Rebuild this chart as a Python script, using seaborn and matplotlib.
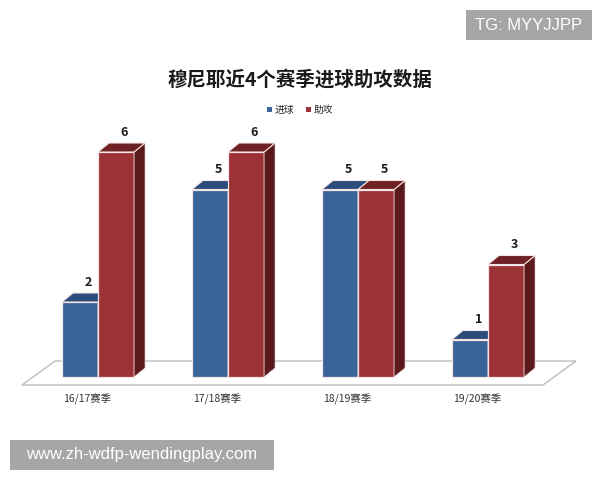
import matplotlib
matplotlib.use("Agg")
import matplotlib.pyplot as plt
import seaborn as sns
import pandas as pd
from matplotlib.patches import Polygon, Rectangle, Patch

# ---- data ----
seasons = ["16/17赛季", "17/18赛季", "18/19赛季", "19/20赛季"]
goals = [2, 5, 5, 1]
assists = [6, 6, 5, 3]
series_names = ["进球", "助攻"]
title = "穆尼耶近4个赛季进球助攻数据"
wm_top = "TG: MYYJJPP"
wm_bottom = "www.zh-wdfp-wendingplay.com"

df = pd.DataFrame({
    "season": seasons * 2,
    "value": goals + assists,
    "series": [series_names[0]] * len(seasons) + [series_names[1]] * len(seasons),
})

# ---- style ----
front = {series_names[0]: "#3A6398", series_names[1]: "#9B3236"}
topc = {series_names[0]: "#2C4C7C", series_names[1]: "#6E2224"}
sidec = {series_names[0]: "#233E66", series_names[1]: "#5A1A1C"}

sns.set_theme(style="white")
plt.rcParams['font.family'] = ['Noto Sans CJK SC', 'DejaVu Sans']

W, H = 600, 480
fig = plt.figure(figsize=(6, 4.8), dpi=100)
ax = fig.add_axes([0, 0, 1, 1])

sns.barplot(data=df, x="season", y="value", hue="series", palette=front,
            width=0.555, gap=0, edgecolor="#F6E4E4", linewidth=0.9,
            saturation=1, legend=False, ax=ax, zorder=2)

# pixel mapping: category spacing 130 px, first group center at 98 px; 1 unit = 37.5 px, baseline at 377 px
px_x, px_y = 130.0, 37.5
x0_px, base_px = 98.0, 377.0
ax.set_xlim(-x0_px / px_x, (W - x0_px) / px_x)
ax.set_ylim(-(H - base_px) / px_y, base_px / px_y)
ax.axis("off")

# 3D depth offsets
dx, dy = 11 / px_x, 9 / px_y

# floor
n = len(seasons)
fl_left, fl_right = -76 / px_x, (n - 1) + 55 / px_x
fl_front, fl_back = -8 / px_y, 16 / px_y
fl_shift = 33 / px_x
floor = Polygon([(fl_left, fl_front), (fl_right, fl_front),
                 (fl_right + fl_shift, fl_back), (fl_left + fl_shift, fl_back)],
                closed=True, facecolor="white", edgecolor="#BDBDBD", lw=1.0, zorder=1)
ax.add_patch(floor)

for k, (cont, name) in enumerate(zip(ax.containers, series_names)):
    for bar in cont:
        bar.set_zorder(2 + 2 * k)
        x, w, h = bar.get_x(), bar.get_width(), bar.get_height()
        top_poly = Polygon([(x, h), (x + w, h), (x + w + dx, h + dy), (x + dx, h + dy)],
                           closed=True, facecolor=topc[name], edgecolor="#F6E4E4",
                           lw=0.8, zorder=2.5 + 2 * k)
        side_poly = Polygon([(x + w, 0), (x + w + dx, dy), (x + w + dx, h + dy), (x + w, h)],
                            closed=True, facecolor=sidec[name], edgecolor="#F6E4E4",
                            lw=0.5, zorder=2.4 + 2 * k)
        ax.add_patch(side_poly)
        ax.add_patch(top_poly)
        ax.text(x + w / 2 + 0.065, h + 0.53, f"{h:g}", ha="center", va="center",
                fontsize=9, fontweight="bold", color="#1A1A1A", zorder=6)

for i, s in enumerate(seasons):
    ax.text(i - 0.085, -22 / px_y, s, ha="center", va="center", fontsize=7.5,
            color="#333333", zorder=6)

fig.text(0.5, 1 - 80 / H, title, ha="center", va="center", fontsize=14,
         fontweight="bold", color="#1A1A1A")

handles = [Patch(facecolor=front[s], edgecolor="none", label=s) for s in series_names]
fig.legend(handles=handles, loc="center", bbox_to_anchor=(0.5, 1 - 110 / H), ncol=2,
           frameon=False, fontsize=7, handlelength=0.5, handleheight=0.5,
           handletextpad=0.3, columnspacing=1.2)

# watermark boxes
fig.patches.append(Rectangle((466 / W, 1 - 40 / H), 126 / W, 30 / H, transform=fig.transFigure,
                             facecolor="#A6A6A6", edgecolor="none", zorder=10))
fig.text(529 / W, 1 - 25 / H, wm_top, ha="center", va="center", fontsize=12,
         color="white", family="Liberation Sans", zorder=11)
fig.patches.append(Rectangle((10 / W, 1 - 470 / H), 264 / W, 30 / H, transform=fig.transFigure,
                             facecolor="#A6A6A6", edgecolor="none", zorder=10))
fig.text(142 / W, 1 - 455 / H, wm_bottom, ha="center", va="center", fontsize=12,
         color="white", family="Liberation Sans", zorder=11)

fig.savefig("out.png", dpi=100, facecolor="white")
